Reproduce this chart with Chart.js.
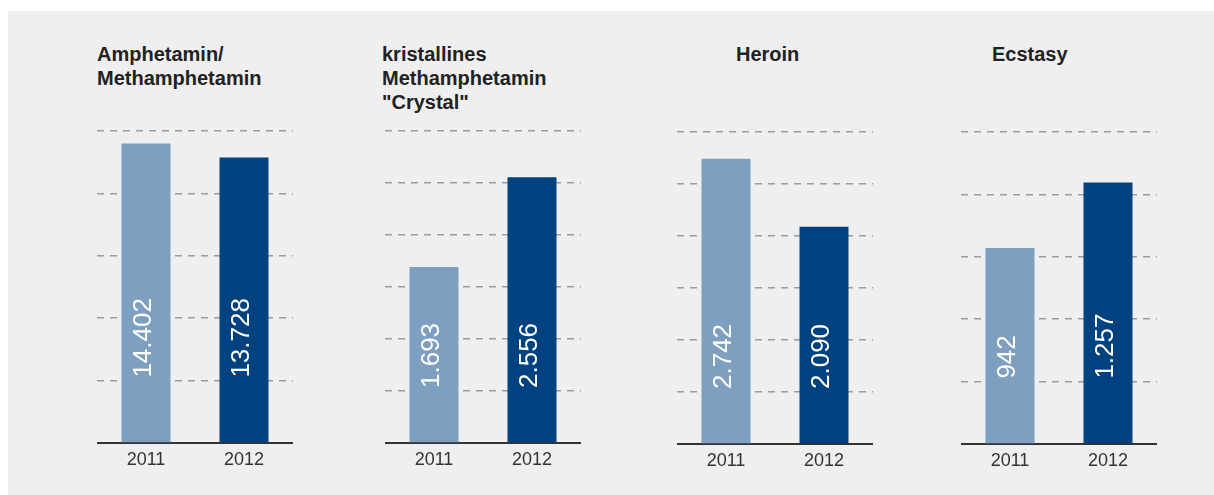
<!DOCTYPE html>
<html>
<head>
<meta charset="utf-8">
<script src="https://cdn.jsdelivr.net/npm/chart.js@4/dist/chart.umd.min.js"></script>
<style>
  body { margin:0; background:#fff; font-family:"Liberation Sans", Arial, sans-serif; }
  #panel { position:absolute; left:8px; top:11px; width:1206px; height:484px; background:#efefef; }
  .title { position:absolute; top:42px; font-weight:bold; font-size:20px; line-height:24px; color:#222; white-space:nowrap; }
  canvas { position:absolute; }
</style>
</head>
<body>
<div id="panel"></div>

<script>
const years = ['2011', '2012'];
const drugTitles = [
    ['Amphetamin/', 'Methamphetamin'],
    ['kristallines', 'Methamphetamin', '"Crystal"'],
    ['Heroin'],
    ['Ecstasy']
];
const cases2011 = [14402, 1693, 2742, 942];
const cases2012 = [13728, 2556, 2090, 1257];
const axisMax = [15000, 3000, 3000, 1500];
const axisStep = [3000, 500, 500, 300];

// where each small chart sits on the page
const chartLeft = [97, 385, 677, 961];
const chartTop = [121, 121, 122, 122];
const titleLeft = [97, 382, 736, 992];

const lightBlue = '#7f9fc1';
const darkBlue = '#00427f';

function fmt(n) {
    return String(n).replace(/\B(?=(\d{3})+(?!\d))/g, '.');
}

const barLabels = {
    id: 'barLabels',
    afterDatasetsDraw(chart) {
        const ctx = chart.ctx;
        const y = chart.scales.y;
        const start = y.getPixelForValue(y.options.ticks.stepSize) - 3;
        const meta = chart.getDatasetMeta(0);
        ctx.save();
        ctx.fillStyle = '#fff';
        ctx.font = '26px "Liberation Sans", Arial, sans-serif';
        ctx.textAlign = 'left';
        ctx.textBaseline = 'middle';
        meta.data.forEach((bar, i) => {
            ctx.save();
            ctx.translate(bar.x - 2, start);
            ctx.rotate(-Math.PI / 2);
            ctx.fillText(fmt(chart.data.datasets[0].data[i]), 0, 0);
            ctx.restore();
        });
        ctx.restore();
    }
};

drugTitles.forEach((lines, k) => {
    const t = document.createElement('div');
    t.className = 'title';
    t.style.left = titleLeft[k] + 'px';
    t.innerHTML = lines.join('<br>');
    document.body.appendChild(t);

    const cv = document.createElement('canvas');
    cv.width = 196;
    cv.height = 360;
    cv.style.left = chartLeft[k] + 'px';
    cv.style.top = chartTop[k] + 'px';
    document.body.appendChild(cv);

    new Chart(cv.getContext('2d'), {
        type: 'bar',
        data: {
            labels: years,
            datasets: [{
                data: [cases2011[k], cases2012[k]],
                backgroundColor: [lightBlue, darkBlue],
                barPercentage: 0.5,
                categoryPercentage: 1.0
            }]
        },
        options: {
            responsive: false,
            devicePixelRatio: 1,
            animation: false,
            layout: { padding: { top: 10, bottom: 4, left: 0, right: 0 } },
            plugins: { legend: { display: false }, tooltip: { enabled: false } },
            scales: {
                x: {
                    grid: { display: false, drawTicks: false },
                    border: { display: true, color: '#333', width: 2 },
                    ticks: {
                        color: '#333',
                        padding: 7,
                        font: { family: '"Liberation Sans", Arial, sans-serif', size: 18, lineHeight: '20px' }
                    }
                },
                y: {
                    min: 0,
                    max: axisMax[k],
                    ticks: { display: false, stepSize: axisStep[k] },
                    grid: {
                        drawTicks: false,
                        lineWidth: 1.5,
                        color: c => c.tick.value === 0 ? 'rgba(0,0,0,0)' : '#9c9c9c'
                    },
                    border: { display: false, dash: [7, 6] }
                }
            }
        },
        plugins: [barLabels]
    });
});
</script>
</body>
</html>
